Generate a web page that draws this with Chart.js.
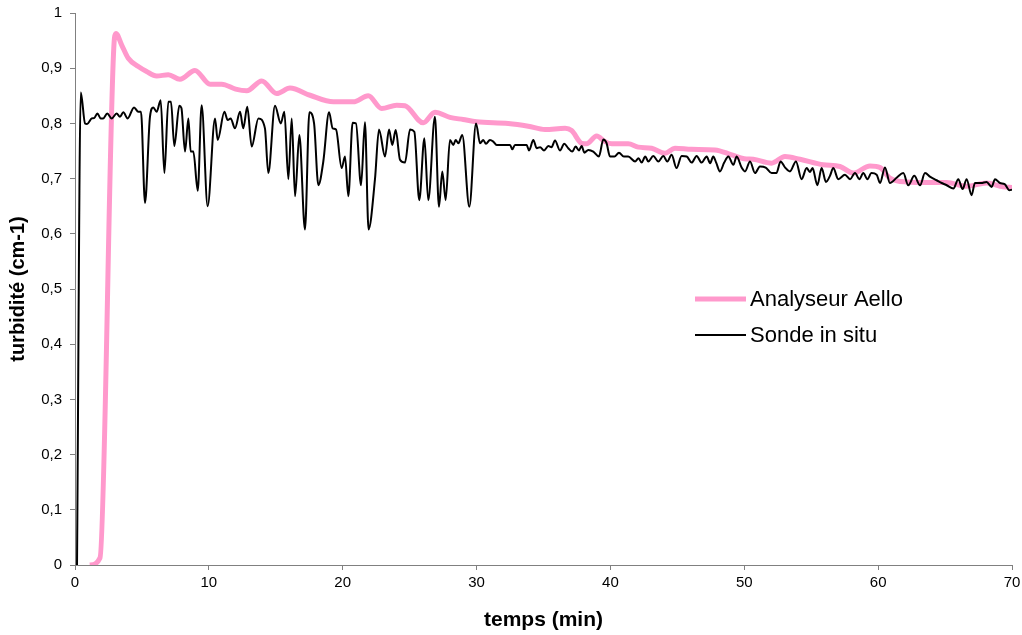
<!DOCTYPE html>
<html>
<head>
<meta charset="utf-8">
<script src="https://cdn.jsdelivr.net/npm/chart.js@4"></script>
<style>
html,body{margin:0;padding:0;background:#fff;}
#wrap{width:1022px;height:635px;}
</style>
</head>
<body>
<div id="wrap"><canvas id="c" width="1022" height="635"></canvas></div>
<script>
// ---- Data ----
const seriesNames = ["Analyseur Aello", "Sonde in situ"];
const xTitle = "temps (min)";
const yTitle = "turbidité (cm-1)";
const yTickValues = [0,0.1,0.2,0.3,0.4,0.5,0.6,0.7,0.8,0.9,1];
const xTickValues = [0,10,20,30,40,50,60,70];

const aelloTime = [1.1,1.87,2.95,3.06,3.49,3.98,4.73,5.35,6.1,6.97,7.84,8.96,10.09,10.96,12.0,12.83,13.95,15.07,16.06,17.56,19.3,20.79,21.91,22.91,24.03,24.65,26.02,26.89,28.01,29.0,30.0,32.37,33.86,35.11,36.61,37.1,37.85,38.22,38.97,39.59,40.09,41.33,42.08,43.08,44.08,44.82,46.07,47.81,49.06,50.0,50.67,52.04,53.04,54.16,55.9,57.15,58.14,59.39,60.14,60.88,62.13,63.87,65.12,66.61,68.1,69.35,70];
const aelloValue = [0,0.013,0.955,0.963,0.942,0.918,0.903,0.894,0.886,0.888,0.88,0.896,0.871,0.871,0.862,0.859,0.877,0.854,0.864,0.851,0.839,0.839,0.85,0.827,0.833,0.832,0.801,0.82,0.811,0.807,0.803,0.80,0.795,0.789,0.791,0.787,0.764,0.763,0.777,0.767,0.763,0.763,0.757,0.755,0.746,0.755,0.753,0.752,0.743,0.736,0.735,0.728,0.74,0.735,0.725,0.722,0.71,0.723,0.72,0.701,0.694,0.693,0.693,0.686,0.692,0.685,0.684];

const sondeTime = [0.15,0.43,0.75,0.9,1.25,1.45,1.67,1.92,2.1,2.41,2.74,3.11,3.36,3.61,3.93,4.41,4.73,4.93,5.23,5.6,5.85,6.1,6.4,6.68,6.97,7.17,7.42,7.79,7.95,8.22,8.47,8.64,8.84,9.17,9.46,9.91,10.46,10.66,11.16,11.41,11.63,11.95,12.33,12.57,12.87,13.2,13.7,14.19,14.44,14.94,15.37,15.64,15.94,16.19,16.44,16.76,17.18,17.51,17.86,18.18,18.55,18.98,19.25,19.5,19.92,20.17,20.42,20.74,20.99,21.37,21.66,21.93,22.41,22.71,23.16,23.46,23.7,23.96,24.28,24.65,25.03,25.35,25.72,26.1,26.39,26.89,27.19,27.44,27.69,28.01,28.26,28.44,28.64,28.93,29.46,29.96,30.26,30.5,30.7,31.0,31.25,31.5,32.0,32.5,32.67,32.87,33.3,33.74,33.92,34.24,34.49,34.75,35.04,35.36,35.6,35.86,36.23,36.55,36.85,37.15,37.4,37.65,37.85,38.05,38.35,38.72,39.14,39.47,39.7,39.97,40.3,40.64,41.0,41.33,41.84,42.1,42.33,42.6,42.83,43.2,43.58,43.95,44.25,44.57,44.94,45.32,45.7,46.07,46.44,46.81,47.19,47.45,47.68,47.9,48.18,48.5,48.81,49.18,49.43,49.8,50.05,50.43,50.8,51.17,51.6,52.04,52.4,52.71,53.05,53.41,53.86,54.28,54.66,54.9,55.1,55.46,55.78,56.1,56.4,56.65,57.02,57.52,57.9,58.27,58.6,58.89,59.2,59.5,59.89,60.14,60.51,60.88,61.4,61.88,62.25,62.7,63.13,63.5,63.9,64.37,64.75,65.12,65.62,65.99,66.31,66.61,66.98,67.23,67.7,68.1,68.48,68.73,69.1,69.45,69.8,70];
const sondeValue = [0,0.856,0.800,0.799,0.809,0.81,0.818,0.809,0.809,0.818,0.809,0.818,0.812,0.82,0.809,0.829,0.821,0.821,0.656,0.812,0.829,0.821,0.842,0.71,0.839,0.839,0.759,0.832,0.828,0.749,0.809,0.749,0.749,0.678,0.833,0.650,0.809,0.77,0.821,0.806,0.809,0.791,0.821,0.791,0.830,0.758,0.809,0.791,0.71,0.832,0.800,0.821,0.699,0.809,0.668,0.779,0.608,0.82,0.80,0.688,0.731,0.82,0.791,0.789,0.719,0.74,0.668,0.801,0.80,0.688,0.802,0.608,0.699,0.789,0.74,0.789,0.761,0.788,0.734,0.729,0.789,0.785,0.661,0.773,0.661,0.812,0.649,0.713,0.661,0.77,0.761,0.77,0.764,0.779,0.649,0.80,0.764,0.77,0.763,0.77,0.767,0.761,0.761,0.761,0.753,0.761,0.761,0.761,0.751,0.77,0.755,0.757,0.751,0.759,0.757,0.769,0.751,0.763,0.755,0.749,0.758,0.751,0.759,0.747,0.752,0.749,0.74,0.771,0.765,0.74,0.74,0.747,0.74,0.74,0.731,0.737,0.729,0.74,0.731,0.741,0.731,0.741,0.731,0.743,0.719,0.741,0.74,0.729,0.741,0.729,0.74,0.728,0.74,0.729,0.713,0.729,0.74,0.725,0.74,0.72,0.713,0.731,0.71,0.722,0.72,0.71,0.71,0.731,0.72,0.713,0.731,0.699,0.719,0.712,0.719,0.688,0.719,0.694,0.705,0.719,0.699,0.707,0.699,0.71,0.699,0.71,0.699,0.71,0.707,0.692,0.72,0.692,0.702,0.71,0.688,0.705,0.688,0.71,0.703,0.697,0.692,0.688,0.682,0.699,0.681,0.699,0.67,0.692,0.692,0.694,0.685,0.699,0.692,0.69,0.679,0.68];

const toPoints = (xs, ys) => xs.map((x, i) => ({x: x, y: ys[i]}));
const FONT = '"Liberation Sans", Arial, sans-serif';

// ---- Custom legend drawn inside the plot area ----
const innerLegend = {
  id: 'innerLegend',
  afterDraw(chart) {
    const ctx = chart.ctx;
    const ds = chart.data.datasets;
    const order = [1, 0]; // Analyseur first, then Sonde
    const rows = [299, 335];
    ctx.save();
    ctx.font = '22px ' + FONT;
    ctx.textBaseline = 'middle';
    ctx.fillStyle = '#000';
    order.forEach((di, r) => {
      const d = ds[di];
      ctx.beginPath();
      ctx.strokeStyle = d.borderColor;
      ctx.lineWidth = d.borderWidth;
      ctx.moveTo(695, rows[r]);
      ctx.lineTo(746, rows[r]);
      ctx.stroke();
      ctx.fillText(d.label, 750, rows[r] + 1);
    });
    ctx.restore();
  }
};

const fmt = v => {
  const r = Math.round(v * 10) / 10;
  if (r === 0) return '0';
  if (r === 1) return '1';
  return r.toFixed(1).replace('.', ',');
};

new Chart(document.getElementById('c'), {
  type: 'line',
  data: {
    datasets: [
      {
        label: seriesNames[1],
        data: toPoints(sondeTime, sondeValue),
        borderColor: '#000000',
        borderWidth: 2,
        pointRadius: 0,
        cubicInterpolationMode: 'monotone',
        fill: false,
        order: 0
      },
      {
        label: seriesNames[0],
        data: toPoints(aelloTime, aelloValue),
        borderColor: '#FF99CC',
        borderWidth: 5,
        pointRadius: 0,
        cubicInterpolationMode: 'monotone',
        fill: false,
        order: 1
      }
    ]
  },
  options: {
    responsive: false,
    devicePixelRatio: 1,
    animation: false,
    layout: { padding: { left: 0, top: 13, right: 10, bottom: 0 } },
    plugins: { legend: { display: false }, tooltip: { enabled: false } },
    scales: {
      x: {
        type: 'linear',
        min: 0, max: 70,
        afterBuildTicks: s => { s.ticks = xTickValues.map(v => ({value: v})); },
        afterFit: s => { s.height = 70; s.paddingLeft = 0; s.paddingRight = 0; },
        grid: { drawOnChartArea: false, drawTicks: true, tickLength: 5, color: '#808080' },
        border: { color: '#808080', width: 1 },
        ticks: { color: '#000', padding: 4, maxRotation: 0,
                 font: { family: FONT, size: 15 } },
        title: { display: true, text: xTitle, color: '#000',
                 font: { family: FONT, size: 21, weight: 'bold' },
                 padding: { top: 0, bottom: 2 } }
      },
      y: {
        min: 0, max: 1,
        afterBuildTicks: s => { s.ticks = yTickValues.map(v => ({value: v})); },
        afterFit: s => { s.width = 75; s.paddingTop = 0; s.paddingBottom = 0; },
        grid: { drawOnChartArea: false, drawTicks: true, tickLength: 5, color: '#808080' },
        border: { color: '#808080', width: 1 },
        ticks: { color: '#000', padding: 8, callback: v => fmt(v),
                 font: { family: FONT, size: 15 } },
        title: { display: true, text: yTitle, color: '#000',
                 font: { family: FONT, size: 20, weight: 'bold' },
                 padding: { top: 6, bottom: 0 } }
      }
    }
  },
  plugins: [innerLegend]
});
</script>
</body>
</html>
